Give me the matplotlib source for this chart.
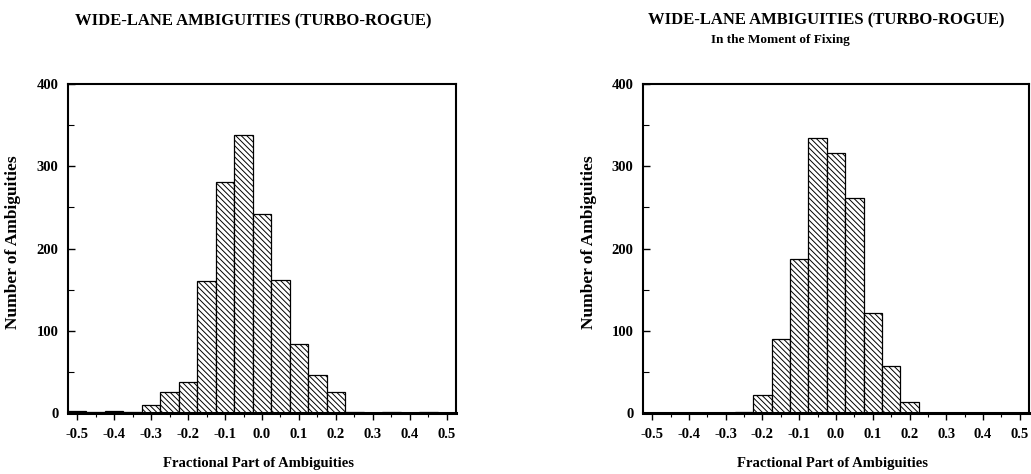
import numpy as np
import matplotlib
matplotlib.use("Agg")
import matplotlib.pyplot as plt
from matplotlib.ticker import MultipleLocator

# Bin centres of the fractional part (bin width 0.05)
bin_centers = [-0.50, -0.45, -0.40, -0.35, -0.30, -0.25, -0.20, -0.15, -0.10, -0.05,
               0.00, 0.05, 0.10, 0.15, 0.20, 0.25, 0.30, 0.35, 0.40, 0.45, 0.50]

# Counts of all wide-lane ambiguities
counts_all = [2, 1, 3, 1, 10, 25, 38, 161, 281, 338,
              242, 162, 84, 46, 25, 1, 0, 1, 0, 1, 0]

# Counts at the moment of fixing
counts_fixing = [0, 0, 0, 0, 0, 1, 22, 90, 187, 334,
                 316, 262, 121, 57, 13, 0, 0, 0, 0, 0, 0]

x_ticks = [-0.5, -0.4, -0.3, -0.2, -0.1, 0.0, 0.1, 0.2, 0.3, 0.4, 0.5]
x_ticklabels = ["-0.5", "-0.4", "-0.3", "-0.2", "-0.1", "0.0", "0.1", "0.2", "0.3", "0.4", "0.5"]
y_ticks = [0, 100, 200, 300, 400]

title_main = "WIDE-LANE AMBIGUITIES (TURBO-ROGUE)"
subtitle = "In the Moment of Fixing"
xlabel = "Fractional Part of Ambiguities"
ylabel = "Number of Ambiguities"

plt.rcParams["font.family"] = ["Liberation Serif", "DejaVu Serif"]
plt.rcParams["font.weight"] = "bold"
plt.rcParams["hatch.linewidth"] = 0.7

W, H = 1031, 474
fig = plt.figure(figsize=(W / 100, H / 100), dpi=100)


def px_axes(x0, x1, y0, y1):
    return fig.add_axes([x0 / W, 1 - y1 / H, (x1 - x0) / W, (y1 - y0) / H])


def draw_hist(ax, counts):
    ax.bar(bin_centers, counts, width=0.05, color="white", edgecolor="black",
           linewidth=0.9, hatch="\\\\\\\\\\\\", align="center", zorder=2)
    ax.set_xlim(-0.525, 0.525)
    ax.set_ylim(0, 400)
    ax.set_xticks(x_ticks)
    ax.set_xticklabels(x_ticklabels)
    ax.set_yticks(y_ticks)
    ax.xaxis.set_minor_locator(MultipleLocator(0.05))
    ax.yaxis.set_minor_locator(MultipleLocator(50))
    ax.tick_params(axis="x", which="major", direction="out", length=5, width=1,
                   labelsize=10.5, pad=6)
    ax.tick_params(axis="x", which="minor", direction="out", length=3, width=0.8)
    ax.tick_params(axis="y", which="major", direction="in", length=5, width=1,
                   labelsize=10.5, pad=7)
    ax.tick_params(axis="y", which="minor", direction="in", length=4, width=0.8)
    for side in ("left", "right", "top"):
        ax.spines[side].set_linewidth(1.5)
    ax.spines["bottom"].set_linewidth(2.2)
    for lab in ax.get_xticklabels() + ax.get_yticklabels():
        lab.set_fontweight("bold")
    ax.set_xlabel(xlabel, fontsize=10.5, fontweight="bold")
    ax.set_ylabel(ylabel, fontsize=12.5, fontweight="bold")
    ax.xaxis.set_label_coords(0.49, -0.135)
    ax.yaxis.set_label_coords(-0.12, 0.52)


ax1 = px_axes(68, 456, 84, 413)
draw_hist(ax1, counts_all)

ax2 = px_axes(643, 1029, 84, 413)
draw_hist(ax2, counts_fixing)

fig.text(253 / W, 1 - 21 / H, title_main, ha="center", va="center",
         fontsize=12, fontweight="bold")
fig.text(826 / W, 1 - 20 / H, title_main, ha="center", va="center",
         fontsize=12, fontweight="bold")
fig.text(780 / W, 1 - 40 / H, subtitle, ha="center", va="center",
         fontsize=9.5, fontweight="bold")

fig.savefig("out.png", dpi=100)
